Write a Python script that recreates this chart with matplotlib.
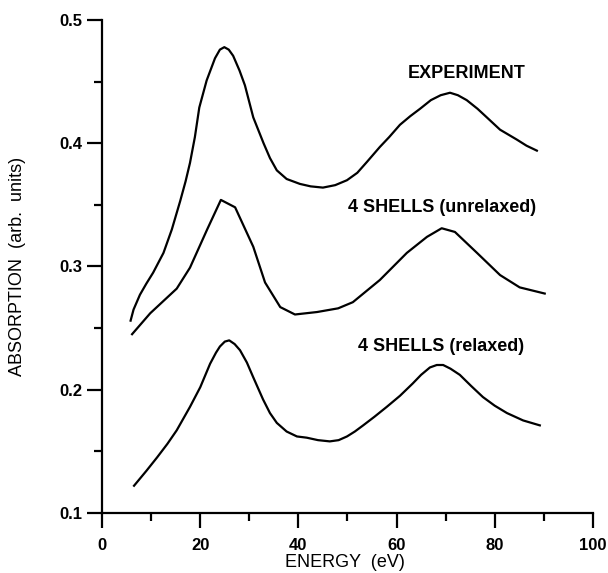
import numpy as np
import matplotlib.pyplot as plt
from matplotlib.ticker import MultipleLocator, FormatStrFormatter

plt.rcParams['font.family'] = ['Liberation Sans', 'DejaVu Sans']

# Experiment
x_exp = [5.8, 6.4, 7.7, 9.0, 10.4, 12.5, 14.2, 15.9, 17.0, 17.9, 18.9, 19.8,
         21.3, 23.0, 24.0, 24.9, 25.8, 26.7, 28.0, 29.1, 30.8, 32.9, 34.2,
         35.6, 37.6, 40.3, 42.5, 45.0, 47.5, 49.9, 52.0, 54.0, 56.6, 58.5,
         60.7, 62.8, 64.8, 67.0, 69.0, 70.9, 72.5, 74.3, 76.5, 78.4, 81.1,
         84.5, 86.5, 88.6]
y_exp = [0.256, 0.265, 0.277, 0.286, 0.295, 0.311, 0.330, 0.353, 0.369, 0.384,
         0.405, 0.429, 0.451, 0.469, 0.476, 0.478, 0.476, 0.471, 0.459, 0.447,
         0.421, 0.400, 0.388, 0.378, 0.371, 0.367, 0.365, 0.364, 0.366, 0.370,
         0.376, 0.385, 0.397, 0.405, 0.415, 0.422, 0.428, 0.435, 0.439, 0.441,
         0.439, 0.435, 0.428, 0.421, 0.411, 0.403, 0.398, 0.394]

# 4 shells, unrelaxed
x_unr = [6.1, 9.8, 15.2, 17.9, 21.4, 24.2, 27.1, 30.8, 33.2, 36.3, 39.3, 43.8,
         48.1, 51.1, 56.6, 62.1, 66.2, 69.2, 71.9, 76.4, 81.1, 85.1, 90.2]
y_unr = [0.245, 0.262, 0.282, 0.299, 0.330, 0.354, 0.348, 0.316, 0.287, 0.267,
         0.261, 0.263, 0.266, 0.271, 0.289, 0.311, 0.324, 0.331, 0.328, 0.311,
         0.293, 0.283, 0.278]

# 4 shells, relaxed
x_rel = [6.5, 9.0, 11.2, 13.3, 15.2, 17.9, 20.0, 22.0, 23.2, 24.0, 25.0, 25.9,
         27.0, 28.1, 29.5, 30.8, 32.8, 34.2, 35.6, 37.6, 39.7, 41.7, 44.0,
         46.4, 48.2, 49.9, 51.5, 53.2, 55.5, 58.0, 60.7, 63.3, 65.0, 66.8,
         68.2, 69.5, 71.0, 72.9, 75.2, 77.6, 80.0, 82.5, 85.8, 89.2]
y_rel = [0.122, 0.134, 0.145, 0.156, 0.167, 0.186, 0.202, 0.221, 0.230, 0.235,
         0.239, 0.240, 0.237, 0.232, 0.222, 0.210, 0.192, 0.181, 0.173, 0.166,
         0.162, 0.161, 0.159, 0.158, 0.159, 0.162, 0.166, 0.171, 0.178, 0.186,
         0.195, 0.205, 0.212, 0.218, 0.220, 0.220, 0.217, 0.212, 0.203, 0.194,
         0.187, 0.181, 0.175, 0.171]

fig = plt.figure(figsize=(6.08, 5.73), dpi=100)
ax = fig.add_axes([0.168, 0.105, 0.807, 0.860])

for xs, ys in [(x_exp, y_exp), (x_unr, y_unr), (x_rel, y_rel)]:
    ax.plot(xs, ys, color='black', lw=1.6, solid_joinstyle='round')

ax.text(74.2, 0.457, 'EXPERIMENT', ha='center', va='center',
        fontsize=13, fontweight='bold')
ax.text(69.3, 0.348, '4 SHELLS (unrelaxed)', ha='center', va='center',
        fontsize=13, fontweight='bold')
ax.text(69.1, 0.235, '4 SHELLS (relaxed)', ha='center', va='center',
        fontsize=13, fontweight='bold')

ax.set_xlim(0, 100)
ax.set_ylim(0.1, 0.5)
ax.xaxis.set_major_locator(MultipleLocator(20))
ax.xaxis.set_minor_locator(MultipleLocator(10))
ax.yaxis.set_major_locator(MultipleLocator(0.1))
ax.yaxis.set_minor_locator(MultipleLocator(0.05))
ax.yaxis.set_major_formatter(FormatStrFormatter('%.1f'))

for s in ['top', 'right']:
    ax.spines[s].set_visible(False)
for s in ['left', 'bottom']:
    ax.spines[s].set_linewidth(1.6)

ax.tick_params(which='major', direction='out', length=11, width=1.6,
               labelsize=12)
ax.tick_params(which='minor', direction='out', length=5.5, width=1.6)
ax.tick_params(axis='x', which='major', pad=7)
ax.tick_params(axis='y', which='major', pad=3)
for lab in ax.get_xticklabels() + ax.get_yticklabels():
    lab.set_fontweight('bold')

ax.set_xlabel('ENERGY  (eV)', fontsize=13)
ax.set_ylabel('ABSORPTION  (arb.  units)', fontsize=13)
ax.xaxis.set_label_coords(0.495, -0.083)
ax.yaxis.set_label_coords(-0.155, 0.5)

fig.savefig('out.png', dpi=100)
